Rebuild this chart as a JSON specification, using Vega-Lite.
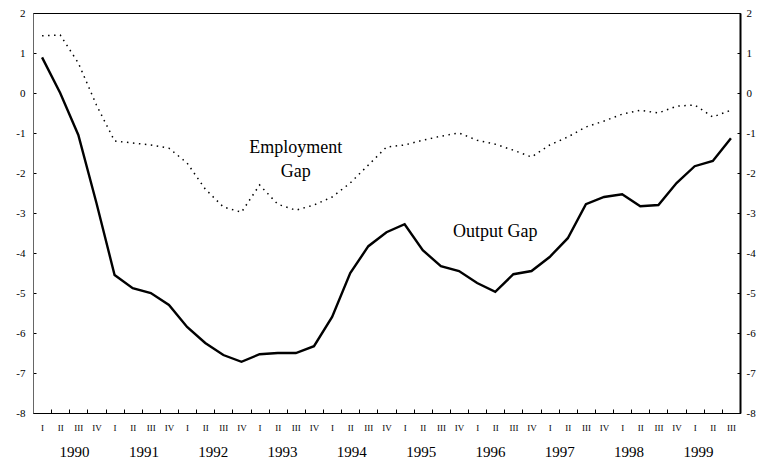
{
  "$schema": "https://vega.github.io/schema/vega-lite/v6.json",
  "width": 707,
  "height": 400,
  "autosize": {"type": "none"},
  "padding": {"left": 33, "top": 13, "right": 25, "bottom": 53},
  "background": "white",
  "config": {
    "font": "Liberation Serif",
    "view": {"stroke": "#000", "strokeWidth": 1},
    "axis": {"labelFont": "Liberation Serif", "labelColor": "#000", "grid": false, "title": null}
  },
  "datasets": {
    "gaps": [
      {"q": "1990-I", "out": 0.89, "emp": 1.43},
      {"q": "1990-II", "out": 0.0, "emp": 1.45},
      {"q": "1990-III", "out": -1.05, "emp": 0.75},
      {"q": "1990-IV", "out": -2.75, "emp": -0.3},
      {"q": "1991-I", "out": -4.55, "emp": -1.2},
      {"q": "1991-II", "out": -4.88, "emp": -1.25},
      {"q": "1991-III", "out": -5.0, "emp": -1.3},
      {"q": "1991-IV", "out": -5.3, "emp": -1.38},
      {"q": "1992-I", "out": -5.85, "emp": -1.75},
      {"q": "1992-II", "out": -6.25, "emp": -2.4},
      {"q": "1992-III", "out": -6.55, "emp": -2.85},
      {"q": "1992-IV", "out": -6.72, "emp": -2.98},
      {"q": "1993-I", "out": -6.53, "emp": -2.3},
      {"q": "1993-II", "out": -6.5, "emp": -2.78},
      {"q": "1993-III", "out": -6.5, "emp": -2.93},
      {"q": "1993-IV", "out": -6.33, "emp": -2.8},
      {"q": "1994-I", "out": -5.6, "emp": -2.6},
      {"q": "1994-II", "out": -4.5, "emp": -2.25},
      {"q": "1994-III", "out": -3.83, "emp": -1.8},
      {"q": "1994-IV", "out": -3.48, "emp": -1.35},
      {"q": "1995-I", "out": -3.28, "emp": -1.3},
      {"q": "1995-II", "out": -3.93, "emp": -1.18},
      {"q": "1995-III", "out": -4.33, "emp": -1.08},
      {"q": "1995-IV", "out": -4.45, "emp": -1.0},
      {"q": "1996-I", "out": -4.75, "emp": -1.18},
      {"q": "1996-II", "out": -4.97, "emp": -1.28},
      {"q": "1996-III", "out": -4.53, "emp": -1.43},
      {"q": "1996-IV", "out": -4.45, "emp": -1.6},
      {"q": "1997-I", "out": -4.1, "emp": -1.3},
      {"q": "1997-II", "out": -3.63, "emp": -1.1},
      {"q": "1997-III", "out": -2.78, "emp": -0.85},
      {"q": "1997-IV", "out": -2.6, "emp": -0.7},
      {"q": "1998-I", "out": -2.53, "emp": -0.53},
      {"q": "1998-II", "out": -2.83, "emp": -0.43},
      {"q": "1998-III", "out": -2.8, "emp": -0.5},
      {"q": "1998-IV", "out": -2.25, "emp": -0.33},
      {"q": "1999-I", "out": -1.83, "emp": -0.3},
      {"q": "1999-II", "out": -1.7, "emp": -0.6},
      {"q": "1999-III", "out": -1.13, "emp": -0.43}
    ],
    "notes": [
      {"q": "1993-III", "v": -1.38, "t": "Employment"},
      {"q": "1993-III", "v": -1.98, "t": "Gap"},
      {"q": "1996-II", "v": -3.48, "t": "Output Gap"}
    ],
    "years": [
      {"year": "1990"}, {"year": "1991"}, {"year": "1992"}, {"year": "1993"}, {"year": "1994"},
      {"year": "1995"}, {"year": "1996"}, {"year": "1997"}, {"year": "1998"}, {"year": "1999"}
    ]
  },
  "layer": [
    {
      "layer": [
        {
          "data": {"name": "gaps"},
          "mark": {"type": "line", "color": "#000", "strokeWidth": 1.5, "strokeDash": [1.5, 4.5]},
          "encoding": {
            "x": {
              "field": "q", "type": "nominal", "sort": null,
              "scale": {"type": "band", "paddingInner": 0, "paddingOuter": 0},
              "axis": {
                "orient": "bottom",
                "labelExpr": "split(datum.value, '-')[1]",
                "labelAngle": 0,
                "labelFontSize": 9,
                "labelPadding": 14,
                "tickBand": "extent",
                "tickSize": -4,
                "tickColor": "#000",
                "domainColor": "#000",
                "domainWidth": 1
              }
            },
            "y": {
              "field": "emp", "type": "quantitative",
              "scale": {"domain": [-8, 2], "nice": false, "zero": false},
              "axis": {
                "orient": "left", "values": [-8, -7, -6, -5, -4, -3, -2, -1, 0, 1, 2],
                "labelExpr": "'' + datum.value",
                "labelFontSize": 11, "labelPadding": 11, "tickSize": -3,
                "tickColor": "#000", "domainColor": "#666", "domainWidth": 1
              }
            }
          }
        },
        {
          "data": {"name": "gaps"},
          "mark": {"type": "line", "color": "#000", "strokeWidth": 2.4},
          "encoding": {
            "x": {"field": "q", "type": "nominal", "sort": null},
            "y": {"field": "out", "type": "quantitative", "axis": null}
          }
        },
        {
          "mark": {"type": "rule", "color": "#000", "strokeWidth": 1.8},
          "encoding": {
            "y": {
              "datum": 0, "type": "quantitative",
              "axis": {
                "orient": "right", "values": [-8, -7, -6, -5, -4, -3, -2, -1, 0, 1, 2],
                "labelExpr": "'' + datum.value",
                "labelFontSize": 11, "labelPadding": 9, "tickSize": -3,
                "tickColor": "#000", "domainColor": "#000", "domainWidth": 2
              }
            }
          }
        },
        {
          "data": {"name": "notes"},
          "mark": {"type": "text", "font": "Liberation Serif", "fontSize": 18, "color": "#000", "baseline": "middle", "align": "center"},
          "encoding": {
            "x": {"field": "q", "type": "nominal", "sort": null},
            "y": {"field": "v", "type": "quantitative", "axis": null},
            "text": {"field": "t"}
          }
        }
      ],
      "resolve": {"axis": {"y": "independent"}}
    },
    {
      "data": {"name": "years"},
      "mark": {"type": "text"},
      "encoding": {
        "x": {
          "field": "year", "type": "nominal", "sort": null,
          "scale": {"type": "band", "paddingInner": 0, "paddingOuter": 0.1},
          "axis": {
            "orient": "bottom", "labelAngle": 0, "labelFontSize": 15,
            "ticks": false, "tickSize": 0, "domain": false, "labelPadding": 31
          }
        },
        "text": {"value": ""}
      }
    }
  ],
  "resolve": {"scale": {"x": "independent"}, "axis": {"y": "independent", "x": "independent"}}
}
